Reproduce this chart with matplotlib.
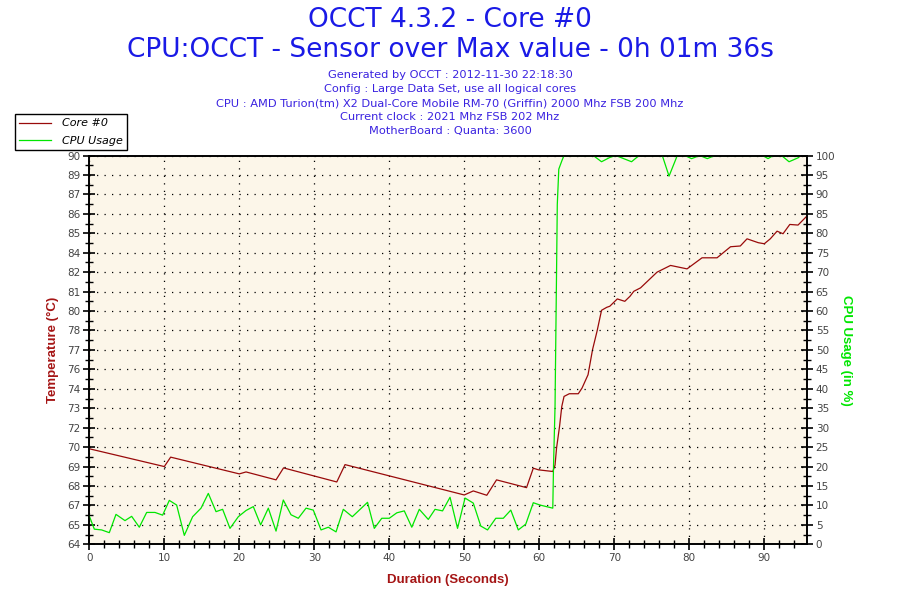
import matplotlib
matplotlib.use("Agg")
import matplotlib.pyplot as plt
import numpy as np

# Core #0 temperature (seconds, degC)
temp_t = [0.0, 10.0, 10.85, 20.0, 20.9, 24.9, 25.9, 33.0, 34.1, 50.0, 51.2, 53.0,
          54.3, 58.3, 59.2, 59.9, 61.8, 62.1, 62.3, 62.7, 63.0, 63.3, 64.0, 65.2,
          65.7, 66.5, 67.1, 67.7, 68.3, 69.0, 69.4, 70.4, 71.4, 72.1, 72.6, 73.5,
          75.7, 77.5, 79.7, 81.7, 83.7, 85.5, 86.8, 87.7, 89.2, 90.0, 90.8, 91.7,
          92.5, 93.4, 94.5, 95.6]
temp_c = [70.39, 69.2, 69.83, 68.71, 68.84, 68.31, 69.11, 68.17, 69.33, 67.3, 67.57, 67.28,
          68.31, 67.79, 69.09, 68.98, 68.87, 69.3, 70.43, 71.88, 73.22, 73.89, 74.07, 74.07,
          74.45, 75.34, 77.02, 78.25, 79.65, 79.85, 79.92, 80.41, 80.25, 80.59, 80.92, 81.15,
          82.2, 82.65, 82.42, 83.16, 83.16, 83.9, 83.95, 84.43, 84.17, 84.1, 84.43, 84.94,
          84.77, 85.39, 85.35, 85.91]

# CPU usage (seconds, %)
cpu_t = [0.0, 0.67, 1.65, 2.67, 3.56, 4.76, 5.65, 6.67, 7.65, 8.76, 9.78, 10.67,
         11.65, 12.67, 13.78, 14.9, 15.87, 16.9, 17.78, 18.76, 19.87, 20.9, 21.87, 22.85,
         23.87, 24.9, 25.87, 26.9, 27.87, 28.9, 29.87, 30.9, 31.87, 32.9, 33.87, 35.07,
         37.1, 38.0, 39.0, 40.0, 41.0, 42.0, 43.0, 44.0, 45.2, 46.1, 47.1, 48.1,
         49.1, 50.1, 51.2, 52.2, 53.1, 54.2, 55.2, 56.2, 57.2, 58.2, 59.2, 60.1,
         61.8, 61.9, 62.1, 62.2, 62.3, 62.4, 62.6, 63.0, 63.3, 67.2, 68.3, 69.4,
         70.2, 72.3, 73.3, 76.4, 77.3, 78.4, 79.4, 80.3, 81.4, 82.4, 83.4, 89.8,
         90.5, 91.2, 92.3, 93.3, 93.9, 94.6]
cpu_pct = [7.3, 3.9, 3.7, 3.0, 7.7, 6.1, 7.2, 4.4, 8.2, 8.2, 7.5, 11.3,
           10.1, 2.3, 7.1, 9.3, 13.1, 8.4, 9.0, 4.1, 7.1, 8.7, 9.7, 5.0,
           9.3, 3.4, 11.4, 7.6, 6.7, 9.3, 8.8, 3.7, 4.4, 3.2, 9.0, 7.1,
           10.8, 4.1, 6.7, 6.7, 8.1, 8.6, 4.4, 9.0, 6.4, 9.0, 8.6, 12.1,
           4.1, 11.9, 10.6, 4.7, 3.7, 6.7, 6.7, 8.8, 3.7, 5.2, 10.7, 10.1,
           9.3, 20.4, 35.5, 52.7, 69.8, 87.4, 96.5, 98.6, 100, 100, 98.4, 99.5,
           100, 98.4, 100, 100, 94.7, 100, 100, 99.2, 100, 99.2, 100, 100,
           99.2, 100, 100, 98.4, 98.9, 99.5]

# left axis: 21 evenly spaced ticks from 64 to 90, labels rounded as shown
temp_ticklabels = ["64", "65", "67", "68", "69", "70", "72", "73", "74", "76", "77",
                   "78", "80", "81", "82", "84", "85", "86", "87", "89", "90"]
cpu_ticks = list(range(0, 101, 5))
x_ticks = list(range(0, 91, 10))

subtitle_lines = [
    "Generated by OCCT : 2012-11-30 22:18:30",
    "Config : Large Data Set, use all logical cores",
    "CPU : AMD Turion(tm) X2 Dual-Core Mobile RM-70 (Griffin) 2000 Mhz FSB 200 Mhz",
    "Current clock : 2021 Mhz FSB 202 Mhz",
    "MotherBoard : Quanta: 3600",
]

RED = "#990a0a"
GREEN = "#00e600"
LABEL_RED = "#a51515"
TICK_GREY = "#444444"

fig = plt.figure(figsize=(9, 6), dpi=100)
ax = fig.add_axes([0.0992, 0.0928, 0.7971, 0.6480])
ax.set_facecolor("#fcf6e9")
ax2 = ax.twinx()

ax.set_xlim(0, 95.65)
ax.set_ylim(64, 90)
ax2.set_ylim(0, 100)

l1, = ax.plot(temp_t, temp_c, color=RED, lw=0.9, zorder=3, label="Core #0")
l2, = ax2.plot(cpu_t, cpu_pct, color=GREEN, lw=0.9, zorder=2, label="CPU Usage")

# ticks
ax.set_xticks(x_ticks)
ax.set_xticks(np.arange(0, 96, 2), minor=True)
ytk = np.linspace(64, 90, 21)
ax.set_yticks(ytk)
ax.set_yticklabels(temp_ticklabels)
ax.set_yticks(ytk[:-1] + 0.65, minor=True)
ax2.set_yticks(cpu_ticks)
ax2.set_yticks(np.arange(2.5, 100, 5), minor=True)

for a in (ax, ax2):
    a.tick_params(which="major", direction="inout", length=9, width=1.2,
                  labelsize=7.5, labelcolor=TICK_GREY, color="black", pad=2)
    a.tick_params(which="minor", direction="inout", length=6, width=1.0, color="black")
    for s in a.spines.values():
        s.set_color("black")
        s.set_linewidth(1.2)

# dotted grid
ax.grid(True, which="major", axis="x", color="black", lw=0.9, linestyle=(0, (1, 5)))
ax2.grid(True, which="major", axis="y", color="black", lw=0.9, linestyle=(0, (1, 5)))
ax.set_axisbelow(True)
ax2.set_axisbelow(True)

ax.set_xlabel("Duration (Seconds)", fontsize=9.5, fontweight="bold",
              family="Liberation Sans", color=LABEL_RED, labelpad=8)
ax.set_ylabel("Temperature (°C)", fontsize=9.5, fontweight="bold",
              family="Liberation Sans", color=LABEL_RED, labelpad=6)
ax2.set_ylabel("CPU Usage (in %)", fontsize=9.5, fontweight="bold",
               family="Liberation Sans", color=GREEN, rotation=-90, labelpad=12)

# titles
fig.text(0.5, 1 - 20 / 600, "OCCT 4.3.2 - Core #0", ha="center", va="center",
         fontsize=19, color="#1a1ae6")
fig.text(0.5, 1 - 50 / 600, "CPU:OCCT - Sensor over Max value - 0h 01m 36s",
         ha="center", va="center", fontsize=19, color="#1a1ae6")
for i, line in enumerate(subtitle_lines):
    fig.text(0.5, 1 - (75 + i * 14) / 600, line, ha="center", va="center",
             fontsize=8.2, color="#3a22e0")

leg = fig.legend(handles=[l1, l2], loc="upper left",
                 bbox_to_anchor=(15 / 900, 1 - 114 / 600),
                 fancybox=False, framealpha=1, edgecolor="black",
                 prop={"style": "italic", "size": 8},
                 handlelength=2.8, borderpad=0.4, labelspacing=0.65,
                 handletextpad=1.0, borderaxespad=0)
leg.get_frame().set_linewidth(1.0)

fig.savefig("out.png", dpi=100)
